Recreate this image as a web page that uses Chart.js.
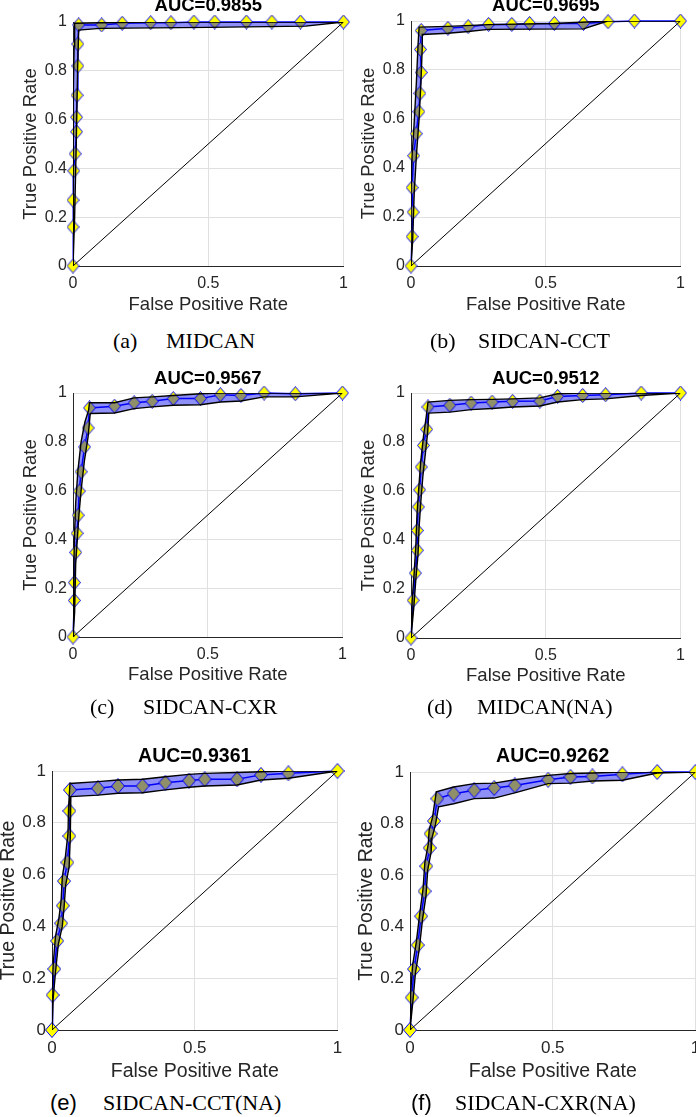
<!DOCTYPE html>
<html>
<head>
<meta charset="utf-8">
<script src="https://cdn.jsdelivr.net/npm/chart.js@4.4.0/dist/chart.umd.min.js"></script>
<style>
  body { margin: 0; background: #fff; width: 696px; height: 1117px; overflow: hidden; position: relative; }
  canvas { position: absolute; }
  .cap { position: absolute; font-size: 22px; line-height: 22px; white-space: nowrap; color: #000; }
  .serif { font-family: "Liberation Serif", "Times New Roman", serif; }
  .sans { font-family: "Liberation Sans", Arial, sans-serif; }
</style>
</head>
<body>
<script>
// ROC curves, one panel per model: mean curve (diamonds) and the upper / lower edge of the shaded band
const models = ['MIDCAN', 'SIDCAN-CCT', 'SIDCAN-CXR', 'MIDCAN(NA)', 'SIDCAN-CCT(NA)', 'SIDCAN-CXR(NA)'];
const letters = ['(a)', '(b)', '(c)', '(d)', '(e)', '(f)'];
const aucValues = [0.9855, 0.9695, 0.9567, 0.9512, 0.9361, 0.9262];
const xTicks = [0, 0.5, 1];
const yTicks = [0, 0.2, 0.4, 0.6, 0.8, 1];
const chanceX = [0, 1];
const chanceY = [0, 1];

// (a) MIDCAN
const aFpr = [0, 0, 0, 0.003, 0.008, 0.013, 0.013, 0.015, 0.018, 0.018, 0.021, 0.106, 0.182, 0.287, 0.362, 0.447, 0.524, 0.641, 0.735, 0.841, 1];
const aTpr = [0, 0.16, 0.27, 0.39, 0.46, 0.55, 0.61, 0.70, 0.82, 0.91, 0.988, 0.988, 0.995, 0.997, 0.997, 1, 1, 1, 1, 1, 1];
const aUpX = [0, 0, 0.002, 0.004, 0.006, 0.10, 0.30, 1];
const aUpY = [0, 0.40, 0.70, 0.90, 0.995, 0.997, 1, 1];
const aLoX = [0, 0.006, 0.012, 0.017, 0.021, 0.10, 0.50, 0.86, 1];
const aLoY = [0, 0.20, 0.50, 0.80, 0.967, 0.974, 0.978, 0.983, 1];

// (b) SIDCAN-CCT
const bFpr = [0, 0.004, 0.008, 0.004, 0.010, 0.019, 0.029, 0.033, 0.038, 0.035, 0.038, 0.137, 0.212, 0.288, 0.374, 0.44, 0.532, 0.64, 0.731, 0.829, 1];
const bTpr = [0, 0.12, 0.22, 0.32, 0.45, 0.54, 0.63, 0.705, 0.79, 0.884, 0.961, 0.970, 0.977, 0.986, 0.986, 0.99, 0.99, 0.99, 0.997, 1, 1];
const bUpX = [0, 0, 0.004, 0.010, 0.020, 0.026, 0.030, 0.137, 0.288, 0.53, 0.73, 1];
const bUpY = [0, 0.30, 0.45, 0.55, 0.75, 0.90, 0.975, 0.978, 0.985, 0.99, 1, 1];
const bLoX = [0, 0.006, 0.012, 0.020, 0.030, 0.037, 0.042, 0.042, 0.137, 0.212, 0.288, 0.64, 0.73, 1];
const bLoY = [0, 0.10, 0.30, 0.45, 0.60, 0.75, 0.90, 0.945, 0.950, 0.957, 0.966, 0.968, 1, 1];

// (c) SIDCAN-CXR
const cFpr = [0, 0.005, 0.005, 0.010, 0.015, 0.019, 0.023, 0.030, 0.043, 0.056, 0.061, 0.154, 0.227, 0.294, 0.372, 0.473, 0.547, 0.623, 0.709, 0.825, 1];
const cTpr = [0, 0.15, 0.223, 0.347, 0.425, 0.499, 0.598, 0.677, 0.779, 0.857, 0.939, 0.946, 0.960, 0.966, 0.977, 0.977, 0.993, 0.990, 1.0, 0.997, 1];
const cUpX = [0, 0.002, 0.005, 0.010, 0.018, 0.030, 0.044, 0.058, 0.061, 0.154, 0.227, 0.294, 0.372, 0.473, 0.547, 1];
const cUpY = [0, 0.20, 0.40, 0.55, 0.68, 0.80, 0.88, 0.93, 0.96, 0.96, 0.98, 0.984, 0.99, 0.997, 1, 1];
const cLoX = [0, 0.006, 0.010, 0.016, 0.022, 0.030, 0.042, 0.056, 0.064, 0.154, 0.227, 0.294, 0.372, 0.473, 0.547, 0.623, 0.709, 0.825, 1];
const cLoY = [0, 0.10, 0.30, 0.40, 0.50, 0.60, 0.72, 0.82, 0.916, 0.918, 0.936, 0.943, 0.95, 0.952, 0.963, 0.967, 0.984, 0.984, 1];

// (d) MIDCAN(NA)
const dFpr = [0, 0.008, 0.016, 0.023, 0.023, 0.027, 0.032, 0.038, 0.046, 0.058, 0.063, 0.144, 0.223, 0.301, 0.377, 0.478, 0.544, 0.637, 0.722, 0.854, 1];
const dTpr = [0, 0.154, 0.265, 0.358, 0.439, 0.535, 0.605, 0.698, 0.786, 0.852, 0.943, 0.950, 0.959, 0.963, 0.966, 0.967, 0.986, 0.990, 0.993, 1.0, 1];
const dUpX = [0, 0.004, 0.012, 0.018, 0.022, 0.028, 0.036, 0.046, 0.056, 0.063, 0.144, 0.223, 0.301, 0.377, 0.478, 0.544, 0.637, 1];
const dUpY = [0, 0.15, 0.27, 0.38, 0.50, 0.60, 0.72, 0.82, 0.90, 0.963, 0.97, 0.973, 0.974, 0.976, 0.98, 0.997, 1, 1];
const dLoX = [0, 0.010, 0.018, 0.026, 0.030, 0.036, 0.044, 0.054, 0.062, 0.066, 0.144, 0.223, 0.301, 0.377, 0.478, 0.544, 0.637, 0.722, 0.854, 1];
const dLoY = [0, 0.12, 0.24, 0.34, 0.45, 0.55, 0.66, 0.76, 0.84, 0.918, 0.922, 0.932, 0.937, 0.943, 0.947, 0.963, 0.973, 0.976, 0.99, 1];

// (e) SIDCAN-CCT(NA)
const eFpr = [0, 0.002, 0.008, 0.018, 0.032, 0.038, 0.042, 0.054, 0.061, 0.061, 0.063, 0.161, 0.231, 0.317, 0.397, 0.480, 0.535, 0.648, 0.732, 0.828, 1];
const eTpr = [0, 0.135, 0.236, 0.344, 0.412, 0.480, 0.575, 0.647, 0.749, 0.846, 0.927, 0.933, 0.942, 0.942, 0.955, 0.963, 0.968, 0.968, 0.985, 0.991, 1];
const eUpX = [0, 0, 0.004, 0.012, 0.024, 0.032, 0.036, 0.046, 0.056, 0.058, 0.063, 0.161, 0.231, 0.317, 0.397, 0.480, 0.535, 0.648, 0.732, 0.828, 1];
const eUpY = [0, 0.14, 0.25, 0.36, 0.43, 0.50, 0.59, 0.66, 0.76, 0.86, 0.952, 0.959, 0.965, 0.968, 0.978, 0.987, 0.991, 0.994, 0.997, 1, 1];
const eLoX = [0, 0.004, 0.012, 0.022, 0.036, 0.042, 0.048, 0.060, 0.064, 0.064, 0.066, 0.161, 0.231, 0.317, 0.397, 0.480, 0.535, 0.648, 0.732, 0.828, 1];
const eLoY = [0, 0.12, 0.22, 0.33, 0.40, 0.47, 0.56, 0.63, 0.74, 0.83, 0.901, 0.907, 0.914, 0.916, 0.927, 0.937, 0.942, 0.946, 0.965, 0.972, 1];

// (f) SIDCAN-CXR(NA)
const fFpr = [0, 0.006, 0.014, 0.027, 0.039, 0.051, 0.057, 0.069, 0.072, 0.084, 0.096, 0.153, 0.225, 0.295, 0.367, 0.484, 0.562, 0.639, 0.744, 0.866, 1];
const fTpr = [0, 0.126, 0.236, 0.329, 0.441, 0.538, 0.635, 0.706, 0.761, 0.810, 0.897, 0.916, 0.929, 0.938, 0.948, 0.970, 0.981, 0.983, 0.991, 1.0, 1];
const fUpX = [0, 0.002, 0.009, 0.022, 0.034, 0.046, 0.052, 0.064, 0.067, 0.079, 0.092, 0.153, 0.225, 0.295, 0.367, 0.484, 0.562, 0.639, 0.744, 1];
const fUpY = [0, 0.14, 0.25, 0.34, 0.45, 0.55, 0.65, 0.72, 0.775, 0.825, 0.923, 0.942, 0.955, 0.957, 0.970, 0.987, 0.994, 0.996, 1, 1];
const fLoX = [0, 0.010, 0.019, 0.032, 0.044, 0.056, 0.062, 0.074, 0.077, 0.089, 0.100, 0.153, 0.225, 0.295, 0.367, 0.484, 0.562, 0.639, 0.744, 0.866, 1];
const fLoY = [0, 0.11, 0.22, 0.31, 0.43, 0.52, 0.62, 0.69, 0.745, 0.795, 0.865, 0.877, 0.897, 0.899, 0.919, 0.955, 0.957, 0.965, 0.968, 0.996, 1];

const series = [
  [aFpr, aTpr, aUpX, aUpY, aLoX, aLoY],
  [bFpr, bTpr, bUpX, bUpY, bLoX, bLoY],
  [cFpr, cTpr, cUpX, cUpY, cLoX, cLoY],
  [dFpr, dTpr, dUpX, dUpY, dLoX, dLoY],
  [eFpr, eTpr, eUpX, eUpY, eLoX, eLoY],
  [fFpr, fTpr, fUpX, fUpY, fLoX, fLoY]
];

// where each panel sits on the page (plot box l,t,r,b and text midlines)
const panelLayout = [
  {area: [73, 22, 337, 266],   titleMid: 6.3,   xTitleMid: 305.3,  yGap: 42,   big: false, capY: 348.3,  lx: 113, tx: 166, sansLetter: false},
  {area: [411, 21, 674, 266],  titleMid: 6.3,   xTitleMid: 305.3,  yGap: 42,   big: false, capY: 348.3,  lx: 430, tx: 478, sansLetter: false},
  {area: [73, 393, 336, 637],  titleMid: 378.6, xTitleMid: 675.3,  yGap: 42,   big: false, capY: 714.7,  lx: 90,  tx: 143, sansLetter: false},
  {area: [411, 393, 674, 638], titleMid: 379.3, xTitleMid: 676.3,  yGap: 42,   big: false, capY: 714.7,  lx: 427, tx: 477, sansLetter: false},
  {area: [52, 771, 331, 1030], titleMid: 756.7, xTitleMid: 1071.6, yGap: 43.7, big: true,  capY: 1110.7, lx: 50,  tx: 103, sansLetter: true},
  {area: [410, 772, 689, 1030],titleMid: 756.7, xTitleMid: 1071.6, yGap: 43.7, big: true,  capY: 1110.7, lx: 411, tx: 455, sansLetter: true}
];

Chart.defaults.font.family = '"Liberation Sans", Arial, sans-serif';
Chart.defaults.color = '#262626';

// matlab style diamond marker: yellow face, blue edge
function diamond(w, h) {
  const c = document.createElement('canvas');
  c.width = w; c.height = h;
  const g = c.getContext('2d');
  g.beginPath();
  g.moveTo(w / 2, 0.5);
  g.lineTo(w - 0.5, h / 2);
  g.lineTo(w / 2, h - 0.5);
  g.lineTo(0.5, h / 2);
  g.closePath();
  g.fillStyle = '#ffff00';
  g.fill();
  g.strokeStyle = '#0000ff';
  g.lineWidth = 1;
  g.stroke();
  return c;
}

function toPts(xs, ys) {
  return xs.map((x, i) => ({x: x, y: ys[i]}));
}

function makeCaption(p, i) {
  const letter = document.createElement('div');
  letter.className = 'cap ' + (p.sansLetter ? 'sans' : 'serif');
  letter.style.left = p.lx + 'px';
  letter.style.top = (p.capY - (p.sansLetter ? 18.6 : 18.4)) + 'px';
  letter.textContent = letters[i];
  document.body.appendChild(letter);

  const name = document.createElement('div');
  name.className = 'cap serif';
  name.style.left = p.tx + 'px';
  name.style.top = (p.capY - 18.4) + 'px';
  name.textContent = models[i];
  document.body.appendChild(name);
}

function makePanel(p, i) {
  const [fpr, tpr, upX, upY, loX, loY] = series[i];
  const titleSize = p.big ? 19.5 : 18.5;
  const labelSize = p.big ? 19.5 : 18.5;
  const tickSize = p.big ? 17 : 16;
  const th = titleSize * 1.2, lh = labelSize * 1.2;
  const yW = 70, xH = 60, padR = 14;
  const [al, at, ar, ab] = p.area;

  const L = al - yW;
  const T = Math.floor(p.titleMid - th / 2);
  const W = ar + padR - L;
  const H = ab + xH - T;
  const titlePadTop = (p.titleMid - th / 2) - T;
  const titlePadBottom = at - T - th - titlePadTop;
  const xTitlePad = (ab + xH) - p.xTitleMid - lh / 2;
  const yTitlePad = (al - p.yGap) - L - lh / 2;

  const cv = document.createElement('canvas');
  cv.width = W; cv.height = H;
  cv.style.left = L + 'px';
  cv.style.top = T + 'px';
  cv.style.width = W + 'px';
  cv.style.height = H + 'px';
  document.body.appendChild(cv);

  const band = toPts(upX, upY).concat(toPts(loX, loY).reverse());

  new Chart(cv, {
    type: 'scatter',
    data: {
      datasets: [
        {
          data: toPts(fpr, tpr),
          showLine: true,
          borderColor: '#0000ff',
          borderWidth: 1.5,
          pointStyle: diamond(p.big ? 14 : 13, p.big ? 16 : 15),
          pointRadius: 6,
          clip: false,
          order: 3
        },
        {
          data: band,
          showLine: true,
          fill: 'shape',
          backgroundColor: 'rgba(0,0,240,0.44)',
          borderColor: '#000000',
          borderWidth: 1.4,
          pointRadius: 0,
          order: 2
        },
        {
          data: toPts(chanceX, chanceY),
          showLine: true,
          borderColor: '#000000',
          borderWidth: 1,
          pointRadius: 0,
          order: 1
        }
      ]
    },
    options: {
      responsive: false,
      animation: false,
      events: [],
      layout: {padding: 0},
      plugins: {
        legend: {display: false},
        tooltip: {enabled: false},
        title: {
          display: true,
          text: 'AUC=' + aucValues[i].toFixed(4),
          color: '#000000',
          fullSize: false,
          font: {size: titleSize, weight: 'bold', lineHeight: 1.2},
          padding: {top: titlePadTop, bottom: titlePadBottom}
        }
      },
      scales: {
        x: {
          type: 'linear',
          min: 0, max: 1,
          afterBuildTicks: s => { s.ticks = xTicks.map(v => ({value: v})); },
          afterFit: s => { s.height = xH; s.paddingLeft = 0; s.paddingRight = 0; },
          ticks: {font: {size: tickSize}, padding: 8, callback: v => String(v), maxRotation: 0},
          grid: {color: '#e0e0e0', lineWidth: 1, drawTicks: false},
          border: {display: true, color: '#262626', width: 1},
          title: {display: true, text: 'False Positive Rate', font: {size: labelSize, lineHeight: 1.2}, padding: {top: 0, bottom: xTitlePad}}
        },
        y: {
          type: 'linear',
          min: 0, max: 1,
          afterBuildTicks: s => { s.ticks = yTicks.map(v => ({value: v})); },
          afterFit: s => { s.width = yW; s.paddingTop = 0; s.paddingBottom = 0; },
          ticks: {font: {size: tickSize}, padding: 6, callback: v => String(v)},
          grid: {color: '#e0e0e0', lineWidth: 1, drawTicks: false},
          border: {display: true, color: '#262626', width: 1},
          title: {display: true, text: 'True Positive Rate', font: {size: labelSize, lineHeight: 1.2}, padding: {top: yTitlePad, bottom: 0}}
        }
      }
    }
  });

  makeCaption(p, i);
}

panelLayout.forEach(makePanel);
</script>
</body>
</html>
